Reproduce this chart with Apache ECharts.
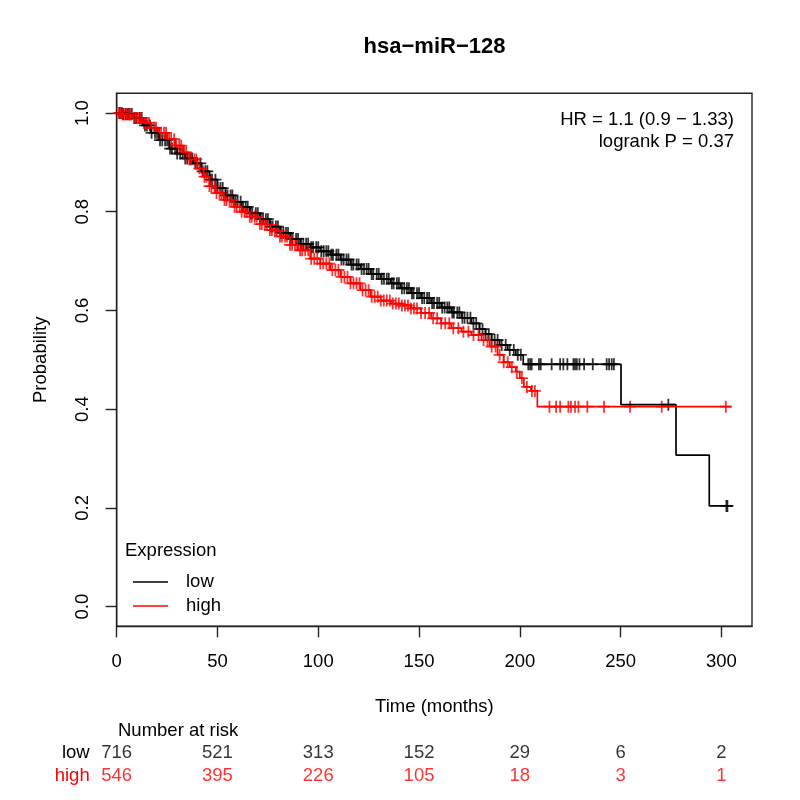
<!DOCTYPE html>
<html>

<head>
    <meta charset="UTF-8">
    <style type="text/css">
        html, body {
            margin: 0;
            padding: 0;
            background: #fff;
        }

        #chart {
            width: 800px;
            height: 800px;
        }
    </style>
</head>

<body>
    <div id="chart"></div>
    <script src="https://cdn.jsdelivr.net/npm/echarts@6/dist/echarts.min.js"></script>
    <script type="text/javascript">
        'use strict';
        // axis ticks
        var xTicks = [0, 50, 100, 150, 200, 250, 300];
        var yTicks = [0, 0.2, 0.4, 0.6, 0.8, 1.0];

        // Kaplan-Meier steps: [months, probability]
        var lowSteps = [[0, 1], [3, 0.998], [8, 0.99], [13, 0.975], [17, 0.96], [21, 0.945], [26, 0.928], [30, 0.918],
            [34, 0.908], [38, 0.898], [42, 0.882], [46, 0.865], [50, 0.848], [54, 0.833], [58, 0.82], [62, 0.81],
            [66, 0.797], [71, 0.785], [76, 0.77], [81, 0.757], [86, 0.745], [91, 0.735], [96, 0.728], [101, 0.72],
            [106, 0.713], [111, 0.703], [116, 0.693], [121, 0.684], [126, 0.674], [131, 0.664], [136, 0.655],
            [141, 0.645], [146, 0.635], [151, 0.625], [156, 0.615], [161, 0.606], [166, 0.596], [171, 0.585],
            [176, 0.574], [180, 0.562], [183, 0.552], [186, 0.54], [190, 0.53], [194, 0.52], [198, 0.51],
            [201.7, 0.491], [250.2, 0.409], [277.5, 0.307], [294, 0.204]];
        var highSteps = [[0, 1], [3, 0.997], [8, 0.99], [13, 0.98], [17, 0.97], [21, 0.96], [25, 0.947], [29, 0.934],
            [33, 0.92], [36, 0.906], [40, 0.888], [43, 0.871], [46, 0.852], [49, 0.838], [53, 0.824], [58, 0.81],
            [62, 0.8], [66, 0.79], [71, 0.775], [76, 0.763], [81, 0.75], [86, 0.733], [90, 0.722], [96, 0.705],
            [101, 0.695], [106, 0.682], [111, 0.668], [116, 0.655], [121, 0.641], [126, 0.628], [131, 0.62],
            [136, 0.614], [141, 0.61], [146, 0.604], [151, 0.595], [156, 0.584], [161, 0.574], [166, 0.564],
            [171, 0.557], [176, 0.55], [181, 0.54], [185, 0.527], [189, 0.51], [192, 0.495], [195, 0.485],
            [198, 0.476], [200, 0.463], [202, 0.445], [205.5, 0.437], [208.7, 0.405]];
        var lowEnd = 305.6;
        var highEnd = 305;

        // censored times (the + marks)
        var lowCensor = [1.5, 2.5, 3.2, 4.5, 5.5, 6.3, 7.5, 9, 10, 11.5, 12.4, 14, 15, 16.5, 17.3, 19, 20, 21.5, 22.6,
            24, 25, 26.5, 27.4, 29, 30, 31.5, 32.7, 34, 35, 36.5, 37.4, 39, 40, 41.5, 42.6, 44, 45, 46.5, 47.3, 49, 50,
            51.5, 52.6, 54, 55, 56.5, 57.4, 59, 60, 61.5, 62.7, 64, 65, 66.5, 67.3, 69, 70, 71.5, 72.6, 74, 75, 76.5,
            77.4, 79, 80, 81.5, 82.7, 84, 85, 86.5, 87.3, 89, 90, 91.5, 92.6, 94, 95, 96.5, 97.4, 99, 100, 101.5, 102.7,
            104, 105, 106.5, 107.3, 109, 110, 111.5, 112.6, 114, 115, 116.5, 117.4, 119, 120, 121.5, 122.7, 124, 125,
            126.5, 127.3, 129, 130, 131.5, 132.6, 134, 135, 136.5, 137.4, 139, 140, 141.5, 142.7, 144, 145, 146.5,
            147.3, 149, 150, 151.5, 152.6, 154, 155, 156.5, 157.4, 159, 160, 161.5, 162.7, 164, 165, 166.5, 167.3,
            169, 170, 171.5, 172.6, 174, 175.5, 177, 178.4, 180, 181.5, 183, 184.6, 186, 187.5, 189, 191, 193, 195,
            197, 199, 200.5, 204.2, 205.1, 205.9, 209.5, 210.4, 215.8, 220, 221.6, 223.6, 226.6, 227.4, 228.3, 229.6,
            231.9, 236.2, 243.1, 244.3, 245.6, 246.7, 273.7, 302.5, 303];
        var highCensor = [1, 2, 3, 4, 5, 6.2, 7, 8.5, 9.5, 11, 12, 13.5, 14.5, 16, 17, 18.5, 19.5, 21, 22, 23.5, 24.5, 26,
            27, 28.5, 29.5, 31, 32, 33.5, 34.5, 36, 37, 38.5, 39.5, 41, 42, 43.5, 44.5, 46, 47, 48.5, 49.5, 51, 52,
            53.5, 54.5, 56, 57, 58.5, 59.5, 61, 62, 63.5, 64.5, 66, 67, 68.5, 69.5, 71, 72, 73.5, 74.5, 76, 77, 78.5,
            79.5, 81, 82, 83.5, 84.5, 86, 87, 88.5, 89.5, 91, 92, 93.5, 95, 96.5, 98, 99.5, 101, 102.5, 104, 105.5, 107,
            108.5, 110, 111.5, 113, 114.5, 116, 117.5, 119, 120.5, 122, 123.5, 125, 126.5, 128, 129.5, 131, 132.5,
            134, 135.5, 137, 138.5, 140, 141.5, 143, 144.5, 146, 147.5, 149, 151, 153, 155, 157, 159, 161, 163, 165,
            167, 169.5, 172, 174.5, 177, 179.5, 182, 184, 186, 188, 190, 192, 194, 196, 198.5, 201, 203.5, 206, 207.5,
            214.7, 218, 220, 224.1, 225.4, 227.4, 229.1, 233.5, 241.8, 254.7, 270.4, 302.2];

        // number at risk table
        var riskGroups = ['low', 'high'];
        var riskLow = [716, 521, 313, 152, 29, 6, 2];
        var riskHigh = [546, 395, 226, 105, 18, 3, 1];

        var FONT = 'Liberation Sans';
        var FS = 18.5;
        var RED = '#ff0000';
        var XMAX = 315.2;

        function survAt(steps, t) {
            var s = steps[0][1];
            for (var i = 0; i < steps.length; i++) {
                if (steps[i][0] <= t) s = steps[i][1];
            }
            return s;
        }

        function stepLine(steps, end) {
            var d = steps.slice();
            d.push([end, steps[steps.length - 1][1]]);
            return d;
        }

        function marks(steps, times) {
            return times.map(function (t) { return [t, survAt(steps, t)]; });
        }

        function riskRow(group, counts) {
            return counts.map(function (c, i) { return [xTicks[i], group, c]; });
        }

        var plus = 'path://M0,5L10,5M5,0L5,10';

        var chart = echarts.init(document.getElementById('chart'), null, { renderer: 'canvas' });
        chart.setOption({
            animation: false,
            backgroundColor: '#fff',
            textStyle: { fontFamily: FONT },
            title: [
                {
                    text: 'hsa\u2212miR\u2212128', left: 434.5, top: 36, padding: 0, textAlign: 'center',
                    textStyle: { fontFamily: FONT, fontSize: 22, fontWeight: 'bold', color: '#000' }
                },
                {
                    text: 'Expression', left: 125, top: 541, padding: 0,
                    textStyle: { fontFamily: FONT, fontSize: FS, fontWeight: 'normal', color: '#000' }
                },
                {
                    text: 'Number at risk', left: 118, top: 721, padding: 0,
                    textStyle: { fontFamily: FONT, fontSize: FS, fontWeight: 'normal', color: '#000' }
                }
            ],
            graphic: [
                {
                    type: 'text', x: 734, y: 120,
                    style: { text: 'HR = 1.1 (0.9 \u2212 1.33)', font: FS + 'px ' + FONT, fill: '#000', textAlign: 'right', textVerticalAlign: 'middle' }
                },
                {
                    type: 'text', x: 734, y: 142,
                    style: { text: 'logrank P = 0.37', font: FS + 'px ' + FONT, fill: '#000', textAlign: 'right', textVerticalAlign: 'middle' }
                }
            ],
            legend: {
                data: ['low', 'high'],
                orient: 'vertical',
                left: 133,
                top: 571,
                padding: 0,
                itemGap: 2,
                itemWidth: 35,
                itemHeight: 1.6,
                icon: 'rect',
                textStyle: { fontFamily: FONT, fontSize: FS, color: '#000', lineHeight: 20, padding: [2, 0, 0, 13] }
            },
            grid: [
                { left: 116.7, right: 48, top: 93.3, bottom: 173.7, show: true, borderColor: '#222', borderWidth: 1.4, backgroundColor: 'transparent' },
                { left: 116.7, right: 48, top: 742, height: 45 }
            ],
            xAxis: [
                {
                    type: 'value', gridIndex: 0, min: 0, max: XMAX,
                    name: 'Time (months)', nameLocation: 'middle', nameGap: 71,
                    nameTextStyle: { fontFamily: FONT, fontSize: FS, color: '#000' },
                    axisLine: { show: true, onZero: false, lineStyle: { color: '#222', width: 1.4 } },
                    axisTick: { show: true, customValues: xTicks, length: 11, lineStyle: { color: '#222', width: 1.4 } },
                    axisLabel: { customValues: xTicks, margin: 26, fontFamily: FONT, fontSize: FS, color: '#000' },
                    splitLine: { show: false }
                },
                { type: 'value', gridIndex: 1, min: 0, max: XMAX, show: false }
            ],
            yAxis: [
                {
                    type: 'value', gridIndex: 0, min: -0.04, max: 1.04,
                    name: 'Probability', nameLocation: 'middle', nameGap: 66,
                    nameTextStyle: { fontFamily: FONT, fontSize: FS, color: '#000' },
                    axisLine: { show: true, onZero: false, lineStyle: { color: '#222', width: 1.4 } },
                    axisTick: { show: true, customValues: yTicks, length: 11, lineStyle: { color: '#222', width: 1.4 } },
                    axisLabel: {
                        customValues: yTicks, rotate: 90, margin: 24, fontFamily: FONT, fontSize: FS, color: '#000',
                        formatter: function (v) { return v.toFixed(1); }
                    },
                    splitLine: { show: false }
                },
                {
                    type: 'category', gridIndex: 1, data: riskGroups, inverse: true,
                    axisLine: { show: false }, axisTick: { show: false }, splitLine: { show: false },
                    axisLabel: {
                        interval: 0, hideOverlap: false, margin: 27, fontFamily: FONT, fontSize: FS,
                        color: function (v) { return v === 'high' ? RED : '#000'; }
                    }
                }
            ],
            series: [
                {
                    name: 'low', type: 'line', step: 'end', symbol: 'none', xAxisIndex: 0, yAxisIndex: 0,
                    lineStyle: { color: '#000', width: 1.7 }, itemStyle: { color: '#000' },
                    data: stepLine(lowSteps, lowEnd)
                },
                {
                    name: 'low censored', type: 'scatter', symbol: plus, symbolSize: 12, xAxisIndex: 0, yAxisIndex: 0,
                    itemStyle: { color: 'rgba(0,0,0,0)', borderColor: '#000', borderWidth: 1.8 },
                    data: marks(lowSteps, lowCensor)
                },
                {
                    name: 'high', type: 'line', step: 'end', symbol: 'none', xAxisIndex: 0, yAxisIndex: 0,
                    lineStyle: { color: RED, width: 1.7 }, itemStyle: { color: RED },
                    data: stepLine(highSteps, highEnd)
                },
                {
                    name: 'high censored', type: 'scatter', symbol: plus, symbolSize: 12, xAxisIndex: 0, yAxisIndex: 0,
                    itemStyle: { color: 'rgba(0,0,0,0)', borderColor: RED, borderWidth: 1.8 },
                    data: marks(highSteps, highCensor)
                },
                {
                    name: 'risk low', type: 'scatter', xAxisIndex: 1, yAxisIndex: 1, symbolSize: 0.1,
                    itemStyle: { color: 'rgba(0,0,0,0)' },
                    label: { show: true, position: 'inside', fontFamily: FONT, fontSize: FS, color: '#000', formatter: function (p) { return p.value[2]; } },
                    data: riskRow('low', riskLow)
                },
                {
                    name: 'risk high', type: 'scatter', xAxisIndex: 1, yAxisIndex: 1, symbolSize: 0.1,
                    itemStyle: { color: 'rgba(0,0,0,0)' },
                    label: { show: true, position: 'inside', fontFamily: FONT, fontSize: FS, color: RED, formatter: function (p) { return p.value[2]; } },
                    data: riskRow('high', riskHigh)
                }
            ]
        });
    </script>
</body>

</html>
